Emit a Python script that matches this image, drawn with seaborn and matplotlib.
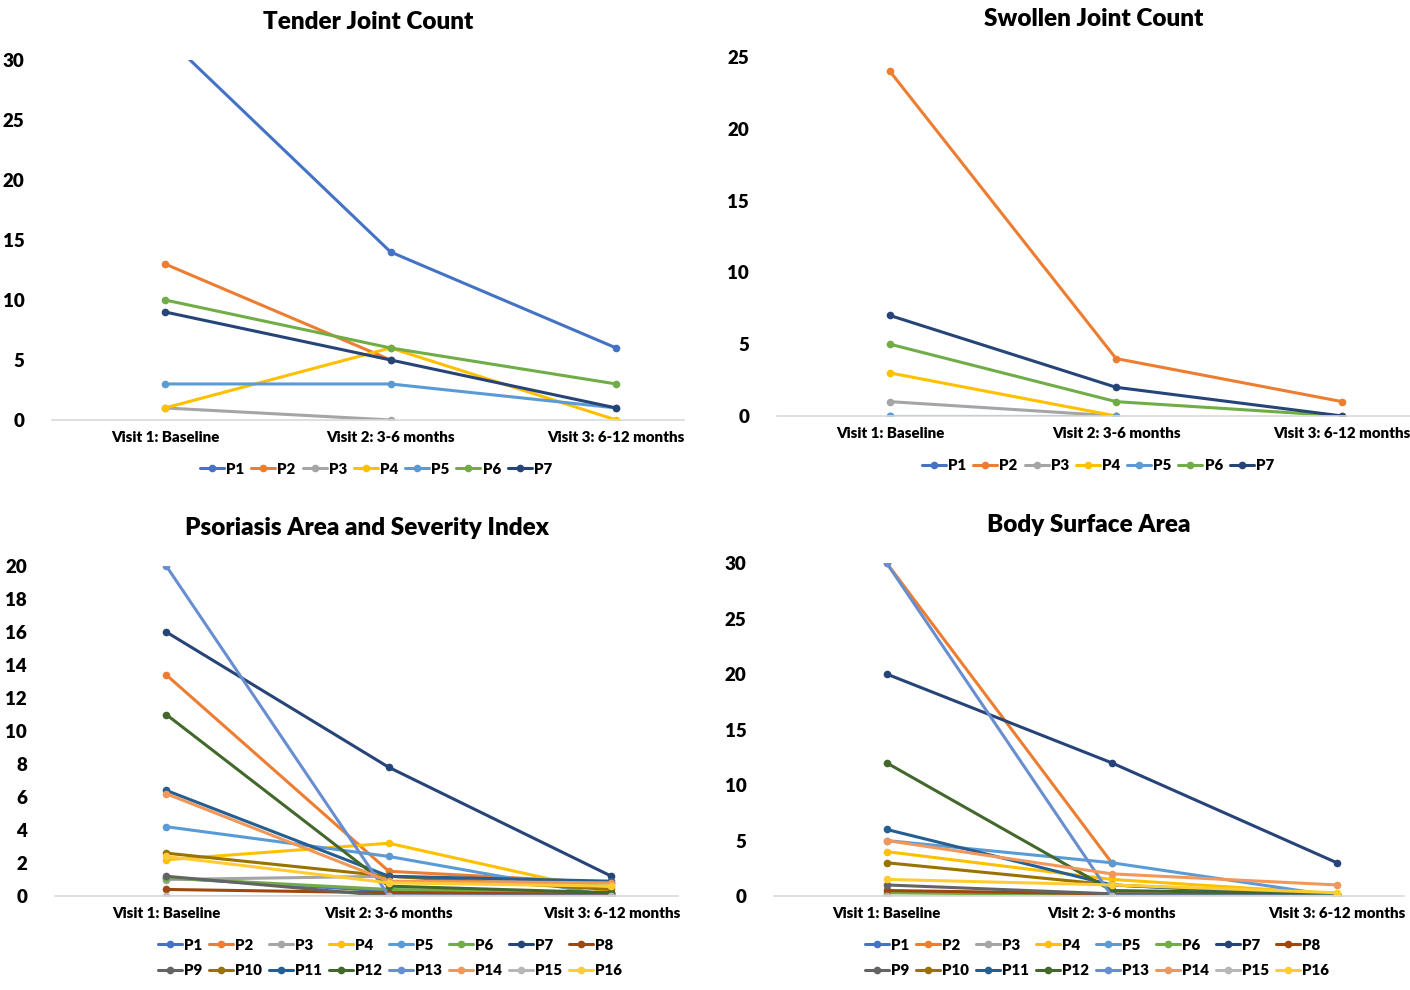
import numpy as np
import pandas as pd
import matplotlib
matplotlib.use('Agg')
import matplotlib.pyplot as plt
import seaborn as sns

# ============================================================
# DATA
# ============================================================

visits = ['Visit 1: Baseline', 'Visit 2: 3-6 months', 'Visit 3: 6-12 months']
nan = np.nan

patients_7 = ['P1', 'P2', 'P3', 'P4', 'P5', 'P6', 'P7']
patients_16 = ['P%d' % i for i in range(1, 17)]

tender = {
    'P1': [32, 14, 6],
    'P2': [13, 5, nan],
    'P3': [1, 0, nan],
    'P4': [1, 6, 0],
    'P5': [3, 3, 1],
    'P6': [10, 6, 3],
    'P7': [9, 5, 1],
}

swollen = {
    'P1': [0, 0, nan],
    'P2': [24, 4, 1],
    'P3': [1, 0, nan],
    'P4': [3, 0, nan],
    'P5': [0, 0, nan],
    'P6': [5, 1, 0],
    'P7': [7, 2, 0],
}

pasi = {
    'P1': [1.1, 0.3, 0.2],
    'P2': [13.4, 1.5, 0.8],
    'P3': [1.0, 1.2, 0.6],
    'P4': [2.2, 3.2, 0.2],
    'P5': [4.2, 2.4, 0.0],
    'P6': [1.1, 0.4, 0.2],
    'P7': [16.0, 7.8, 1.2],
    'P8': [0.4, 0.2, 0.1],
    'P9': [1.2, 0.0, 0.0],
    'P10': [2.6, 1.2, 0.4],
    'P11': [6.4, 1.2, 0.9],
    'P12': [11.0, 0.6, 0.2],
    'P13': [20.0, 0.0, 0.0],
    'P14': [6.2, 0.9, 0.8],
    'P15': [0.0, 0.0, 0.0],
    'P16': [2.4, 0.8, 0.6],
}

bsa = {
    'P1': [0.0, 0.0, 0.0],
    'P2': [30, 3, nan],
    'P3': [0.0, 0.0, 0.0],
    'P4': [4, 1.5, 0.2],
    'P5': [5, 3, 0],
    'P6': [0.3, 0.1, 0.1],
    'P7': [20, 12, 3],
    'P8': [0.5, 0.2, 0.1],
    'P9': [1, 0.2, 0],
    'P10': [3, 1, 0.1],
    'P11': [6, 1, 0],
    'P12': [12, 0.5, 0.2],
    'P13': [30, 0, 0],
    'P14': [5, 2, 1],
    'P15': [0, 0, 0],
    'P16': [1.5, 1, 0.3],
}

colours = {
    'P1': '#4472C4', 'P2': '#ED7D31', 'P3': '#A5A5A5', 'P4': '#FFC000',
    'P5': '#5B9BD5', 'P6': '#70AD47', 'P7': '#264478', 'P8': '#9E480E',
    'P9': '#636363', 'P10': '#997300', 'P11': '#255E91', 'P12': '#43682B',
    'P13': '#698ED0', 'P14': '#F1975A', 'P15': '#B7B7B7', 'P16': '#FFCD33',
}

# ============================================================
# SETUP
# ============================================================

sns.set_theme(style='white')
plt.rcParams['font.family'] = ['Lato', 'DejaVu Sans']
plt.rcParams['text.color'] = 'black'
plt.rcParams['axes.titlecolor'] = 'black'
W = 'heavy'

fig = plt.figure(figsize=(14.1, 9.9), dpi=100)

panels = [
    ('Tender Joint Count', tender, patients_7, 30, 5,
     [0.037, 0.5758, 0.448, 0.3636], (376, 469), 7),
    ('Swollen Joint Count', swollen, patients_7, 25, 5,
     [0.551, 0.5798, 0.449, 0.3626], (1098, 466), 7),
    ('Psoriasis Area and Severity Index', pasi, patients_16, 20, 2,
     [0.039, 0.0949, 0.442, 0.3334], (390, 958), 8),
    ('Body Surface Area', bsa, patients_16, 30, 5,
     [0.549, 0.0949, 0.447, 0.3364], (1097, 958), 8),
]

x_pos = np.arange(len(visits))

for title, data, pats, ymax, ystep, rect, leg_xy, ncol in panels:
    ax = fig.add_axes(rect)
    for p in pats:
        sns.lineplot(x=x_pos, y=np.array(data[p], dtype=float), ax=ax,
                     color=colours[p], linewidth=2.2, marker='o',
                     markersize=5.5, markeredgewidth=0,
                     label=p, legend=False, sort=False)
    ax.set_xlim(-0.5, 2.3)
    ax.set_ylim(0, ymax)
    ax.set_xticks(x_pos)
    ax.set_xticklabels(visits, fontsize=10.8, fontweight=W)
    ticks = np.arange(0, ymax + 0.1, ystep)
    ax.set_yticks(ticks)
    ax.set_yticklabels([str(int(v)) for v in ticks],
                       fontsize=13.5, fontweight=W)
    ax.tick_params(axis='x', length=0, pad=8, colors='black')
    ax.tick_params(axis='y', length=0, pad=20, colors='black')
    for side in ['top', 'right', 'left']:
        ax.spines[side].set_visible(False)
    ax.spines['bottom'].set_color('#D9D9D9')
    ax.spines['bottom'].set_linewidth(1.2)
    ax.set_xlabel('')
    ax.set_ylabel('')
    ax.grid(False)
    ax.set_title(title, fontsize=17.5, fontweight=W, pad=22, color='black')

    handles, labels = ax.get_legend_handles_labels()
    if len(pats) > ncol:
        # matplotlib fills legend columns first, reorder to fill rows
        order = []
        for c in range(ncol):
            order += [c, c + ncol]
        handles = [handles[i] for i in order]
        labels = [labels[i] for i in order]
    leg = fig.legend(handles, labels, loc='center', ncol=ncol,
                     bbox_to_anchor=(leg_xy[0] / 1410, 1 - leg_xy[1] / 990),
                     frameon=False, handlelength=1.6,
                     handletextpad=0.15, columnspacing=0.45, labelspacing=0.85,
                     prop={'weight': W, 'size': 10.8})
    for t in leg.get_texts():
        t.set_color('black')

plt.savefig('out.png', dpi=100)
plt.close()
